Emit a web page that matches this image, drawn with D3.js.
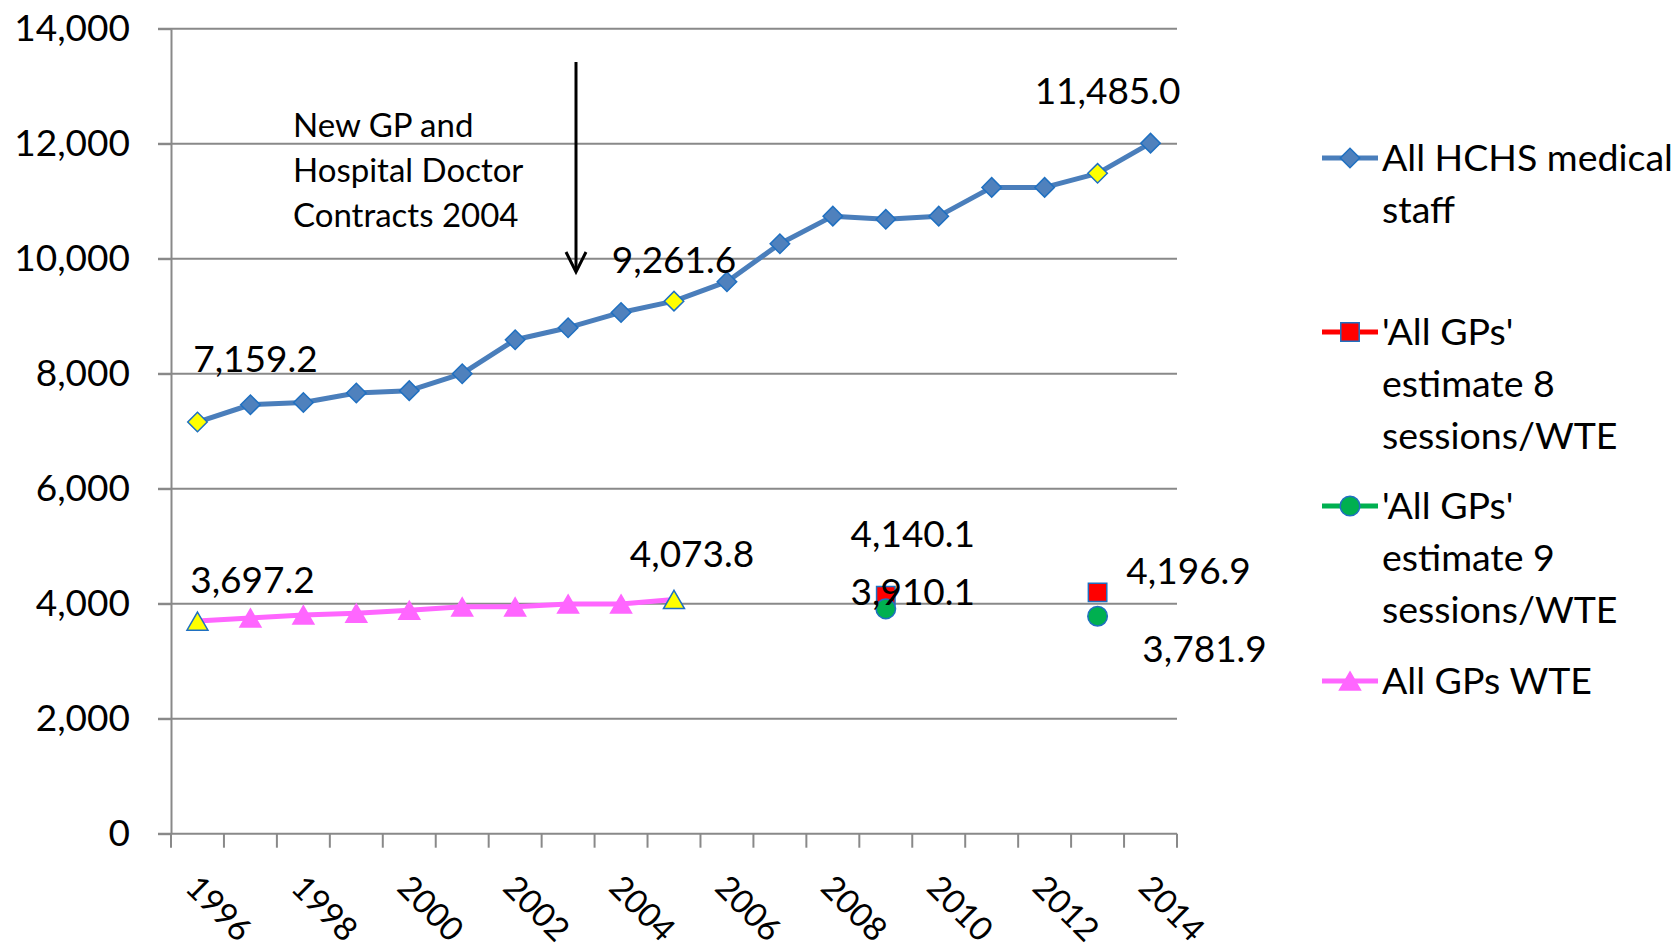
<!DOCTYPE html>
<html>
<head>
<meta charset="utf-8">
<script src="https://cdn.jsdelivr.net/npm/d3@7"></script>
<style>
  body { margin: 0; background: #fff; }
  text { font-family: Lato, "Open Sans", sans-serif; fill: #000; }
</style>
</head>
<body>
<div class="g-chart-container"></div>
<script>
// data
var years = [1996, 1997, 1998, 1999, 2000, 2001, 2002, 2003, 2004, 2005,
  2006, 2007, 2008, 2009, 2010, 2011, 2012, 2013, 2014];
var hchsStaff = [7159.2, 7460, 7500, 7665, 7705, 8000, 8590, 8800, 9065, 9261.6,
  9600, 10260, 10740, 10685, 10740, 11240, 11240, 11485.0, 12010];
var gpsWTE = [3697.2, 3750, 3805, 3835, 3885, 3945, 3945, 3995, 3995, 4073.8,
  null, null, null, null, null, null, null, null, null];
var gpsEst8 = [null, null, null, null, null, null, null, null, null, null,
  null, null, null, 4140.1, null, null, null, 4196.9, null];
var gpsEst9 = [null, null, null, null, null, null, null, null, null, null,
  null, null, null, 3910.1, null, null, null, 3781.9, null];
var yTicks = [0, 2000, 4000, 6000, 8000, 10000, 12000, 14000];
var xTickLabels = [1996, 1998, 2000, 2002, 2004, 2006, 2008, 2010, 2012, 2014];
var hchsHighlight = [1996, 2005, 2013];
var wteHighlight = [1996, 2005];
var legendNames = [
  ["All HCHS medical", "staff"],
  ["'All GPs'", "estimate 8", "sessions/WTE"],
  ["'All GPs'", "estimate 9", "sessions/WTE"],
  ["All GPs WTE"]
];
var annotationLines = ["New GP and", "Hospital Doctor", "Contracts 2004"];

// labelled points: series, year, offset of label centre / baseline
var pointLabels = [
  {series: hchsStaff, year: 1996, dx: 58, dy: -50},
  {series: hchsStaff, year: 2005, dx: 0, dy: -28},
  {series: hchsStaff, year: 2013, dx: 10, dy: -69},
  {series: gpsWTE, year: 1996, dx: 55, dy: -28},
  {series: gpsWTE, year: 2005, dx: 18, dy: -32},
  {series: gpsEst8, year: 2009, dx: 27, dy: -49},
  {series: gpsEst9, year: 2009, dx: 27, dy: -4},
  {series: gpsEst8, year: 2013, dx: 91, dy: -8},
  {series: gpsEst9, year: 2013, dx: 107, dy: 46}
];

var width = 1679;
var height = 951;
var plot = {left: 171, right: 1177, top: 28.7, bottom: 833.7};
var gridColor = "#898989";
var blue = "#4A7EBB";
var markerBlue = "#1F70C1";
var pink = "#FF66FF";

var svg = d3.select(".g-chart-container")
  .append("svg")
  .attr("width", width)
  .attr("height", height)
  .style("display", "block");

var x = d3.scalePoint()
  .domain(years)
  .range([plot.left, plot.right])
  .padding(0.5);
var y = d3.scaleLinear()
  .domain([0, 14000])
  .range([plot.bottom, plot.top]);

// gridlines
svg.append("g")
  .selectAll("line")
  .data(yTicks)
  .enter()
  .append("line")
  .attr("x1", plot.left - 13)
  .attr("x2", plot.right)
  .attr("y1", function(d){ return y(d); })
  .attr("y2", function(d){ return y(d); })
  .style("stroke", gridColor)
  .style("stroke-width", 2);

// y axis
var yAxis = svg.append("g")
  .attr("transform", "translate(" + plot.left + ",0)")
  .call(d3.axisLeft(y)
    .tickValues(yTicks)
    .tickSizeInner(13)
    .tickSizeOuter(0)
    .tickPadding(28)
    .tickFormat(d3.format(",")));
yAxis.selectAll("path, line").style("stroke", gridColor).style("stroke-width", 2);
yAxis.selectAll("text")
  .style("font-family", "Lato, sans-serif")
  .style("font-size", "37px")
  .style("fill", "#000");

// x ticks at category boundaries
var step = x.step();
var boundaries = years.map(function(d){ return x(d) - step / 2; });
boundaries.push(x(years[years.length - 1]) + step / 2);
svg.append("g")
  .selectAll("line")
  .data(boundaries)
  .enter()
  .append("line")
  .attr("x1", function(d){ return d; })
  .attr("x2", function(d){ return d; })
  .attr("y1", plot.bottom)
  .attr("y2", plot.bottom + 14)
  .style("stroke", gridColor)
  .style("stroke-width", 2);

svg.append("g")
  .selectAll("text")
  .data(xTickLabels)
  .enter()
  .append("text")
  .attr("transform", function(d){
    return "translate(" + (x(d) + 3) + "," + (plot.bottom + 39) + ") rotate(45)";
  })
  .attr("dy", "0.72em")
  .style("font-size", "33px")
  .text(function(d){ return d; });

// lines
var line = d3.line()
  .defined(function(d){ return d.v != null; })
  .x(function(d){ return x(d.year); })
  .y(function(d){ return y(d.v); });

function pairs(series) {
  return years.map(function(yr, i){ return {year: yr, v: series[i]}; });
}

svg.append("path")
  .datum(pairs(hchsStaff))
  .attr("d", line)
  .style("fill", "none")
  .style("stroke", blue)
  .style("stroke-width", 5)
  .style("stroke-linejoin", "round");

svg.append("path")
  .datum(pairs(gpsWTE))
  .attr("d", line)
  .style("fill", "none")
  .style("stroke", pink)
  .style("stroke-width", 5)
  .style("stroke-linejoin", "round");

// markers
var diamond = d3.symbol().type(d3.symbolSquare).size(190);
var triangle = d3.symbol().type(d3.symbolTriangle).size(190);
var square = d3.symbol().type(d3.symbolSquare).size(340);
var circle = d3.symbol().type(d3.symbolCircle).size(300);

svg.append("g")
  .selectAll("path")
  .data(pairs(hchsStaff))
  .enter()
  .append("path")
  .attr("d", diamond)
  .attr("transform", function(d){
    return "translate(" + x(d.year) + "," + y(d.v) + ") rotate(45)";
  })
  .style("fill", function(d){ return hchsHighlight.indexOf(d.year) > -1 ? "#FFFF00" : "#4F81BD"; })
  .style("stroke", markerBlue)
  .style("stroke-width", 1.5);

// d3 triangles sit on their centroid; shift so the box is centred on the point
svg.append("g")
  .selectAll("path")
  .data(pairs(gpsWTE).filter(function(d){ return d.v != null; }))
  .enter()
  .append("path")
  .attr("d", triangle)
  .attr("transform", function(d){
    return "translate(" + x(d.year) + "," + (y(d.v) + 3) + ")";
  })
  .style("fill", function(d){ return wteHighlight.indexOf(d.year) > -1 ? "#FFFF00" : pink; })
  .style("stroke", function(d){ return wteHighlight.indexOf(d.year) > -1 ? markerBlue : pink; })
  .style("stroke-width", 1.5);

svg.append("g")
  .selectAll("path")
  .data(pairs(gpsEst8).filter(function(d){ return d.v != null; }))
  .enter()
  .append("path")
  .attr("d", square)
  .attr("transform", function(d){
    return "translate(" + x(d.year) + "," + y(d.v) + ")";
  })
  .style("fill", "#FF0000")
  .style("stroke", markerBlue)
  .style("stroke-width", 1.5);

svg.append("g")
  .selectAll("path")
  .data(pairs(gpsEst9).filter(function(d){ return d.v != null; }))
  .enter()
  .append("path")
  .attr("d", circle)
  .attr("transform", function(d){
    return "translate(" + x(d.year) + "," + y(d.v) + ")";
  })
  .style("fill", "#00B050")
  .style("stroke", markerBlue)
  .style("stroke-width", 1.5);

// data labels
var labelFormat = d3.format(",.1f");
svg.append("g")
  .selectAll("text")
  .data(pointLabels)
  .enter()
  .append("text")
  .attr("x", function(d){ return x(d.year) + d.dx; })
  .attr("y", function(d){ return y(d.series[years.indexOf(d.year)]) + d.dy; })
  .attr("text-anchor", "middle")
  .style("font-size", "37px")
  .text(function(d){ return labelFormat(d.series[years.indexOf(d.year)]); });

// annotation
svg.append("g")
  .selectAll("text")
  .data(annotationLines)
  .enter()
  .append("text")
  .attr("x", 293)
  .attr("y", function(d, i){ return 137 + i * 45; })
  .style("font-size", "33px")
  .text(function(d){ return d; });

var arrowX = 576;
svg.append("line")
  .attr("x1", arrowX).attr("x2", arrowX)
  .attr("y1", 62).attr("y2", 271)
  .style("stroke", "#000")
  .style("stroke-width", 3);
svg.append("path")
  .attr("d", "M" + (arrowX - 10) + ",252L" + arrowX + ",272L" + (arrowX + 10) + ",252")
  .style("fill", "none")
  .style("stroke", "#000")
  .style("stroke-width", 3);

// legend
var legendItems = [
  {names: legendNames[0], color: blue, marker: diamond, rotate: 45, fill: "#4F81BD", stroke: markerBlue, y: 158},
  {names: legendNames[1], color: "#FF0000", marker: square, rotate: 0, fill: "#FF0000", stroke: markerBlue, y: 332},
  {names: legendNames[2], color: "#00B050", marker: circle, rotate: 0, fill: "#00B050", stroke: markerBlue, y: 506},
  {names: legendNames[3], color: pink, marker: triangle, rotate: 0, fill: pink, stroke: pink, y: 681}
];

var legend = svg.append("g")
  .selectAll("g")
  .data(legendItems)
  .enter()
  .append("g")
  .attr("transform", function(d){ return "translate(1322," + d.y + ")"; });

legend.append("line")
  .attr("x1", 0).attr("x2", 56)
  .attr("y1", 0).attr("y2", 0)
  .style("stroke", function(d){ return d.color; })
  .style("stroke-width", 5);

legend.append("path")
  .attr("d", function(d){ return d.marker(); })
  .attr("transform", function(d){
    return "translate(28," + (d.marker === triangle ? 3 : 0) + ") rotate(" + d.rotate + ")";
  })
  .style("fill", function(d){ return d.fill; })
  .style("stroke", function(d){ return d.stroke; })
  .style("stroke-width", 1.5);

legend.each(function(d){
  d3.select(this).selectAll("text")
    .data(d.names)
    .enter()
    .append("text")
    .attr("x", 60)
    .attr("y", function(t, i){ return 13 + i * 52; })
    .style("font-size", "37.5px")
    .text(function(t){ return t; });
});
</script>
</body>
</html>
